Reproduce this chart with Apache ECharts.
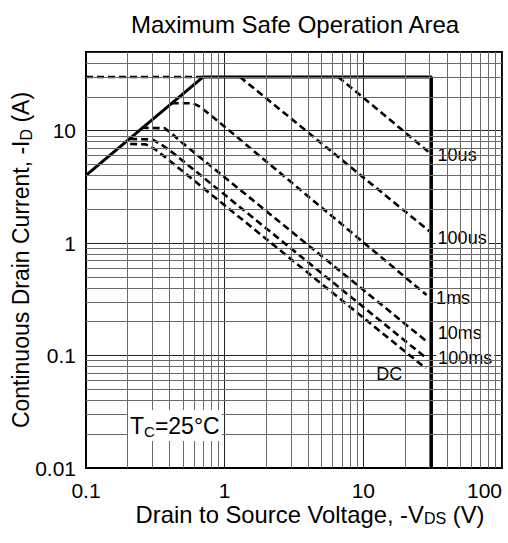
<!DOCTYPE html>
<html><head><meta charset="utf-8">
<script src="https://cdn.jsdelivr.net/npm/echarts@6/dist/echarts.min.js"></script>
<style>html,body{margin:0;padding:0;background:#fff}#c{width:508px;height:543px}</style>
</head><body><div id="c"></div>
<script>
const FONT = '"Liberation Sans", Arial, Helvetica, sans-serif';

// ---- data (V, A) ----
const limitLine = [[0.1, 4.0], [0.70, 30], [31, 30], [31, 0.01]];
const pulseLimitDashed = [[0.1, 30], [0.70, 30]];
const curve10us = [[6.6, 30], [30.3, 6.3]];
const curve100us = [[1.29, 30], [30.3, 1.26]];
const curve1ms = [[0.415, 17.5], [0.59, 17.5], [0.664, 16.3], [0.83, 13.1], [28.6, 0.345]];
const curve10ms = [[0.252, 10.6], [0.37, 10.5], [0.42, 9.3], [0.5, 7.7], [29.4, 0.13]];
const curve100ms = [[0.208, 8.42], [0.3, 8.35], [0.345, 7.6], [0.42, 6.4], [28.6, 0.0945]];
const curveDC = [[0.208, 7.6], [0.27, 7.55], [0.31, 6.9], [0.37, 5.85], [28.2, 0.077]];
const curveNames = ['10us', '100us', '1ms', '10ms', '100ms', 'DC'];
const xMinorGrid = [0.2,0.3,0.4,0.5,0.6,0.7,0.8,0.9, 2,3,4,5,6,7,8,9, 20,30,40,50,60,70,80,90];
const yMinorGrid = [0.02,0.03,0.04,0.05,0.06,0.07,0.08,0.09, 0.2,0.3,0.4,0.5,0.6,0.7,0.8,0.9, 2,3,4,5,6,7,8,9, 20,30,40];
const xRange = [0.1, 100];
const yRange = [0.01, 50];

// ---- styling (not data) ----
const curveData = [curve10us, curve100us, curve1ms, curve10ms, curve100ms, curveDC];
const labelOffsets = [[0, 2], [0, 6], [2, 3], [2, -10], [4, 0], [-57, 6]];

const dashStyle = { color: '#000', width: 2.6, type: [7, 4] };
const fmt = v => String(+Number(v).toPrecision(3));

const series = [];
series.push({
  type: 'line', data: [], z: 1, silent: true, animation: false,
  markLine: {
    silent: true, animation: false, symbol: ['none', 'none'],
    label: { show: false },
    lineStyle: { color: '#6a6a6a', width: 1, type: 'solid' },
    data: xMinorGrid.map(v => ({ xAxis: v })).concat(yMinorGrid.map(v => ({ yAxis: v })))
  }
});
series.push({
  type: 'line', data: limitLine, z: 4, symbol: 'none', animation: false,
  lineStyle: { color: '#000', width: 3 }
});
series.push({
  type: 'line', data: pulseLimitDashed, z: 3, symbol: 'none', animation: false,
  lineStyle: dashStyle
});
curveData.forEach((d, i) => {
  series.push({
    type: 'line', name: curveNames[i], z: 3, animation: false,
    symbol: 'circle', symbolSize: 1, showSymbol: true,
    itemStyle: { color: 'rgba(0,0,0,0)', borderWidth: 0 },
    lineStyle: dashStyle,
    data: d.map((p, j) => j === d.length - 1 ? {
      value: p,
      label: {
        show: true, position: 'right', distance: 5, formatter: curveNames[i], fontSize: 18,
        fontFamily: FONT, color: '#000', backgroundColor: '#fff', padding: [1, 2, 0, 2],
        offset: labelOffsets[i]
      }
    } : p)
  });
});

const chart = echarts.init(document.getElementById('c'), null, { renderer: 'svg' });
chart.setOption({
  animation: false,
  backgroundColor: '#fff',
  title: {
    text: 'Maximum Safe Operation Area', left: 290, top: 7, textAlign: 'center',
    textStyle: { fontSize: 24, fontWeight: 'normal', color: '#000', fontFamily: FONT }
  },
  grid: { left: 86, right: 6, top: 52, bottom: 75, show: true, borderColor: '#000', borderWidth: 2,
    backgroundColor: 'transparent', containLabel: false, outerBoundsMode: 'none' },
  xAxis: {
    type: 'log', logBase: 10, min: xRange[0], max: xRange[1],
    axisLine: { show: true, lineStyle: { color: '#000', width: 2 } },
    axisTick: { show: false },
    splitLine: { show: true, lineStyle: { color: '#222', width: 1 } },
    axisLabel: { fontSize: 21, lineHeight: 21, color: '#000', fontFamily: FONT, margin: 12, formatter: fmt, alignMaxLabel: 'right' },
    name: 'Drain to Source Voltage, -V{s|DS} (V)', nameLocation: 'middle', nameGap: 34, nameMoveOverlap: false,
    nameTextStyle: { fontSize: 23.8, color: '#000', fontFamily: FONT, lineHeight: 24, padding: [0, 0, 0, 32],
      rich: { s: { fontSize: 16, fontFamily: FONT, color: '#000', verticalAlign: 'bottom', lineHeight: 21 } } }
  },
  yAxis: {
    type: 'log', logBase: 10, min: yRange[0], max: yRange[1],
    axisLine: { show: true, lineStyle: { color: '#000', width: 2 } },
    axisTick: { show: false },
    splitLine: { show: true, lineStyle: { color: '#222', width: 1 } },
    axisLabel: { fontSize: 21, color: '#000', fontFamily: FONT, margin: 10, formatter: fmt, showMaxLabel: false },
    name: 'Continuous Drain Current, -I{s|D} (A)', nameLocation: 'middle', nameGap: 52, nameRotate: 90, nameMoveOverlap: false,
    nameTextStyle: { fontSize: 23, color: '#000', fontFamily: FONT, lineHeight: 27,
      rich: { s: { fontSize: 16, fontFamily: FONT, color: '#000', verticalAlign: 'bottom', lineHeight: 23 } } }
  },
  graphic: [{
    type: 'text', left: 128, top: 410, z: 100,
    style: {
      text: 'T{s|C}=25°C', fontSize: 23, fontFamily: FONT, fill: '#000',
      backgroundColor: '#fff', padding: [3, 2, 2, 2], lineHeight: 26,
      rich: { s: { fontSize: 15, fontFamily: FONT, fill: '#000', verticalAlign: 'bottom', lineHeight: 22 } }
    }
  }],
  series: series
});
</script>
</body></html>
